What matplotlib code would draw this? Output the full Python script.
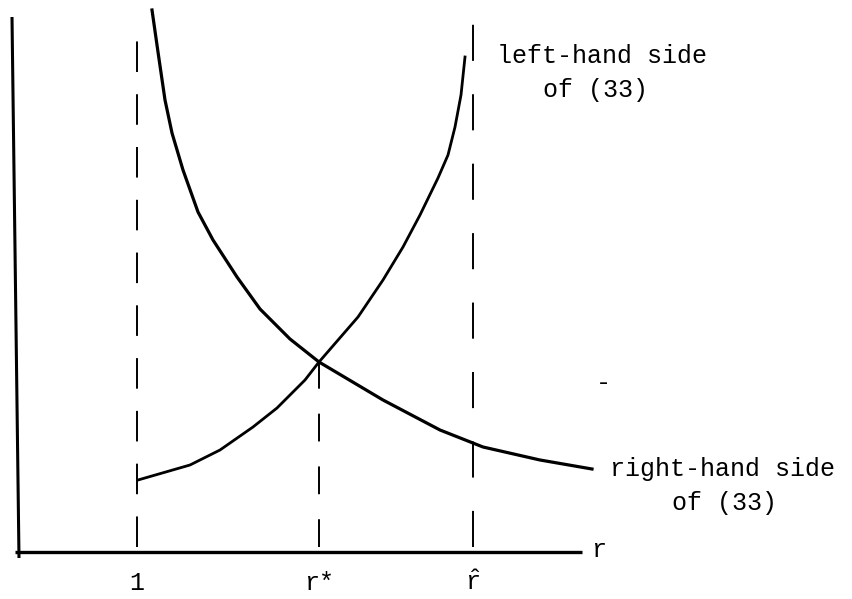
import matplotlib
matplotlib.use("Agg")
import matplotlib.pyplot as plt

# =============================================================================
# Determination of r*: left-hand vs right-hand side of (33)
# (schematic, units measured from the origin of the diagram)
# =============================================================================

# -----------------------------
# Key points on the r axis
# -----------------------------
r_one = 122
r_star = 304
r_hat = 458
axis_end = 567
axis_top = 535

# -----------------------------
# Left-hand side of (33): rising, explodes near r-hat
# -----------------------------
lhs_r = [123, 175, 205, 238, 262, 290, 304, 343, 368, 388, 405, 423, 433, 440, 446, 450]
lhs_v = [72, 87, 102, 125, 144, 172, 190, 235, 272, 305, 337, 374, 397, 425, 457, 495]

# -----------------------------
# Right-hand side of (33): falling, explodes near 1
# -----------------------------
rhs_r = [137, 143, 150, 157, 168, 183, 198, 222, 245, 275, 304, 368, 425, 468, 525, 577]
rhs_v = [542, 500, 452, 419, 382, 340, 312, 275, 243, 213, 190, 152, 122, 105, 92, 83]

plt.rcParams["lines.scale_dashes"] = False
plt.rcParams["mathtext.fontset"] = "custom"
plt.rcParams["mathtext.tt"] = "Liberation Mono"
plt.rcParams["mathtext.rm"] = "Liberation Mono"
mono = "Liberation Mono"
fs = 18

fig = plt.figure(figsize=(8.53, 5.99), dpi=100)
ax = fig.add_axes([0, 0, 1, 1])
ax.set_xlim(-15, 838)
ax.set_ylim(-47, 552)
ax.axis("off")

# axes
ax.plot([-3, 4], [axis_top, -6], color="black", lw=2.2, solid_capstyle="butt")
ax.plot([0, axis_end], [0, 0], color="black", lw=2.4, solid_capstyle="butt")

# dashed guides (drawn upward from the r axis)
ax.plot([r_one, r_one], [5, 521], color="black", lw=1.4, dashes=(22, 16))
ax.plot([r_star, r_star], [5, 190], color="black", lw=1.4, dashes=(20, 18))
ax.plot([r_hat, r_hat], [5, 530], color="black", lw=1.4, dashes=(26, 24))

# curves
ax.plot(lhs_r, lhs_v, color="black", lw=2.0, solid_joinstyle="round")
ax.plot(rhs_r, rhs_v, color="black", lw=2.3, solid_joinstyle="round")

# labels
ax.text(482, 489, "left-hand side", family=mono, fontsize=fs, va="baseline")
ax.text(528, 455, "of (33)", family=mono, fontsize=fs, va="baseline")
ax.text(595, 76, "right-hand side", family=mono, fontsize=fs, va="baseline")
ax.text(657, 42, "of (33)", family=mono, fontsize=fs, va="baseline")
ax.text(584, -5, "r", family=mono, fontsize=fs, ha="center", va="baseline")
ax.text(588, 162, "-", family=mono, fontsize=fs, ha="center", va="baseline")

ax.text(r_one, -38, "1", family=mono, fontsize=fs, ha="center", va="baseline")
ax.text(r_star, -38, "r*", family=mono, fontsize=fs, ha="center", va="baseline")
ax.text(r_hat, -38, r"$\hat{\mathtt{r}}$", fontsize=fs, ha="center", va="baseline")

fig.savefig("out.png", dpi=100, facecolor="white")
